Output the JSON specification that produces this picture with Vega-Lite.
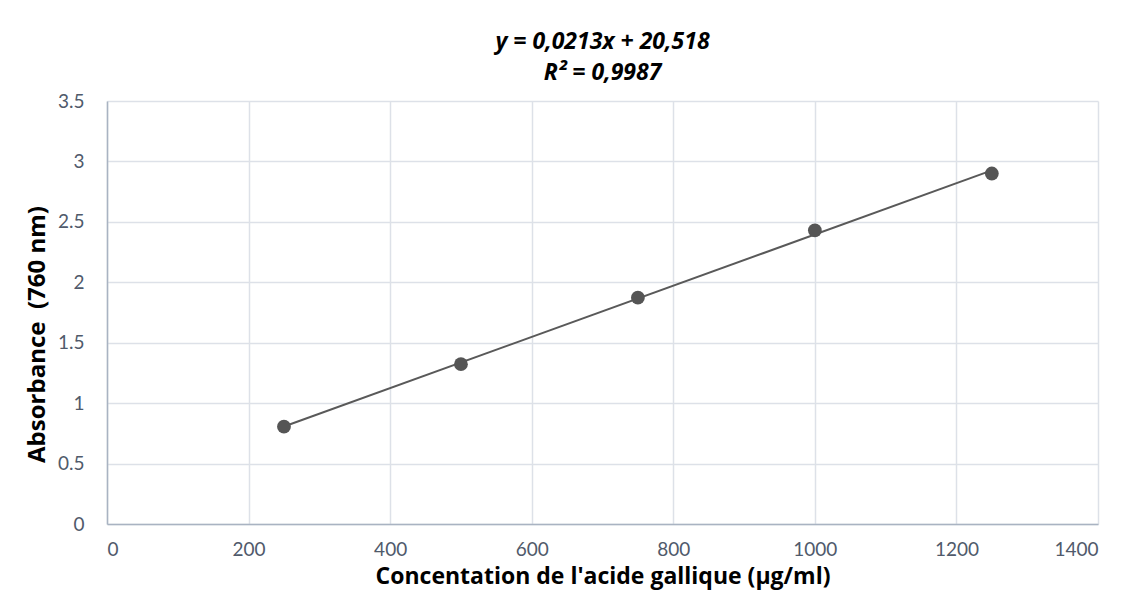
{
  "$schema": "https://vega.github.io/schema/vega-lite/v6.json",
  "autosize": "none",
  "width": 991,
  "height": 423,
  "padding": {"left": 107, "top": 101, "right": 49, "bottom": 66},
  "background": "#ffffff",
  "config": {
    "font": "Lato",
    "view": {"stroke": null},
    "axis": {
      "labelFont": "Lato",
      "labelFontSize": 19,
      "labelColor": "#505a6b",
      "gridColor": "#dde1e8",
      "gridWidth": 1.5,
      "domainColor": "#a9b3c2",
      "domainWidth": 1.5,
      "ticks": false,
      "titleFont": "Open Sans",
      "titleFontSize": 23,
      "titleFontWeight": "bold",
      "titleColor": "#000000"
    }
  },
  "title": {
    "text": ["y = 0,0213x + 20,518", "R² = 0,9987"],
    "font": "Open Sans",
    "fontSize": 23,
    "fontWeight": "bold",
    "fontStyle": "italic",
    "color": "#000000",
    "anchor": "middle",
    "lineHeight": 31,
    "offset": 7
  },
  "data": {
    "values": [
      {"conc": 250, "abs": 0.805},
      {"conc": 500, "abs": 1.322},
      {"conc": 750, "abs": 1.873},
      {"conc": 1000, "abs": 2.43},
      {"conc": 1250, "abs": 2.9}
    ]
  },
  "encoding": {
    "x": {
      "field": "conc",
      "type": "quantitative",
      "scale": {"domain": [0, 1400], "nice": false, "zero": true},
      "axis": {
        "values": [0, 200, 400, 600, 800, 1000, 1200, 1400],
        "format": "d",
        "labelPadding": 16,
        "title": "Concentation de l'acide gallique (µg/ml)",
        "titlePadding": 6
      }
    },
    "y": {
      "field": "abs",
      "type": "quantitative",
      "scale": {"domain": [0, 3.5], "nice": false},
      "axis": {
        "values": [0, 0.5, 1, 1.5, 2, 2.5, 3, 3.5],
        "labelExpr": "datum.value",
        "labelPadding": 23,
        "title": "Absorbance\u00a0 (760 nm)",
        "titleFontSize": 24,
        "titlePadding": 8,
        "titleY": 233
      }
    }
  },
  "layer": [
    {
      "transform": [{"regression": "abs", "on": "conc"}],
      "mark": {"type": "line", "color": "#595959", "strokeWidth": 2}
    },
    {
      "mark": {"type": "point", "filled": true, "shape": "circle", "size": 190, "color": "#555555", "opacity": 1}
    }
  ]
}
